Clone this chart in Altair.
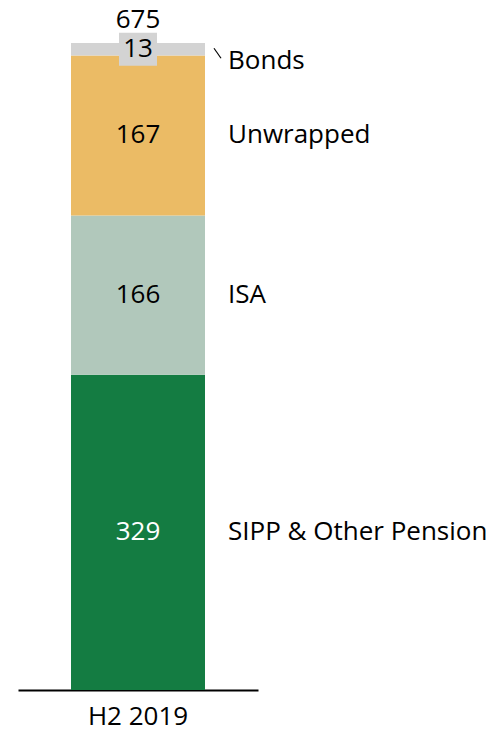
import altair as alt
import pandas as pd

period = "H2 2019"
categories = ["SIPP & Other Pension", "ISA", "Unwrapped", "Bonds"]
values = [329, 166, 167, 13]
colors = ["#147c42", "#b1c8bb", "#ebbb65", "#d3d3d3"]
label_colors = ["white", "black", "black", "black"]

rows = []
acc = 0
for i, (c, v) in enumerate(zip(categories, values)):
    rows.append({"period": period, "cat": c, "value": v, "start": acc, "end": acc + v,
                 "mid": acc + v / 2, "order": i, "lc": label_colors[i]})
    acc += v
df = pd.DataFrame(rows)
total = pd.DataFrame([{"period": period, "total": acc}])

FONT = "Open Sans"
FS = 26

x = alt.X("period:N", title=None,
          scale=alt.Scale(paddingInner=0.1, paddingOuter=0.05),
          axis=alt.Axis(labelAngle=0, ticks=False, domainColor="black", domainWidth=2,
                        labelFontSize=FS, labelFont=FONT, labelColor="black",
                        labelPadding=13))
yscale = alt.Scale(domain=[0, acc], nice=False, zero=True)

base = alt.Chart(df)

bars = base.mark_bar(size=134).encode(
    x=x,
    y=alt.Y("start:Q", scale=yscale, axis=None),
    y2="end:Q",
    color=alt.Color("cat:N", scale=alt.Scale(domain=categories, range=colors), legend=None),
)

box_path = "M-1,-0.87L1,-0.87L1,0.87L-1,0.87Z"
box = base.transform_filter(alt.datum.cat == "Bonds").mark_point(
    shape=box_path, size=1444, filled=True, opacity=1, color="#d3d3d3", strokeWidth=0
).encode(x=x, y=alt.Y("mid:Q", scale=yscale, axis=None))

inner = base.mark_text(font=FONT, fontSize=FS, baseline="middle").encode(
    x=x, y=alt.Y("mid:Q", scale=yscale, axis=None),
    text=alt.Text("value:Q"),
    color=alt.Color("lc:N", scale=None),
)

right_main = base.transform_filter(alt.datum.cat != "Bonds").mark_text(
    font=FONT, fontSize=FS, align="left", baseline="middle", color="black"
).encode(x=alt.value(210), y=alt.Y("mid:Q", scale=yscale, axis=None), text="cat:N")

right_bonds = base.transform_filter(alt.datum.cat == "Bonds").mark_text(
    font=FONT, fontSize=FS, align="left", baseline="middle", color="black", dy=12
).encode(x=alt.value(210), y=alt.Y("mid:Q", scale=yscale, axis=None), text="cat:N")

leader = base.transform_filter(alt.datum.cat == "Bonds").mark_rule(
    color="black", strokeWidth=1.2, yOffset=-1, y2Offset=9
).encode(x=alt.value(196), x2=alt.value(203),
         y=alt.Y("mid:Q", scale=yscale, axis=None), y2="mid:Q")

tot = alt.Chart(total).mark_text(font=FONT, fontSize=FS, baseline="middle", dy=-23,
                                 color="black").encode(
    x=x, y=alt.Y("total:Q", scale=yscale, axis=None), text="total:Q")

chart = alt.layer(bars, box, inner, right_main, right_bonds, leader, tot).properties(
    width=240, height=647,
    background="white",
    autosize=alt.AutoSizeParams(type="none"),
    padding={"left": 10, "top": 35, "right": 231, "bottom": 50},
).configure_view(stroke=None)

chart.save("out.html", embed_options={"renderer": "svg", "actions": False})
